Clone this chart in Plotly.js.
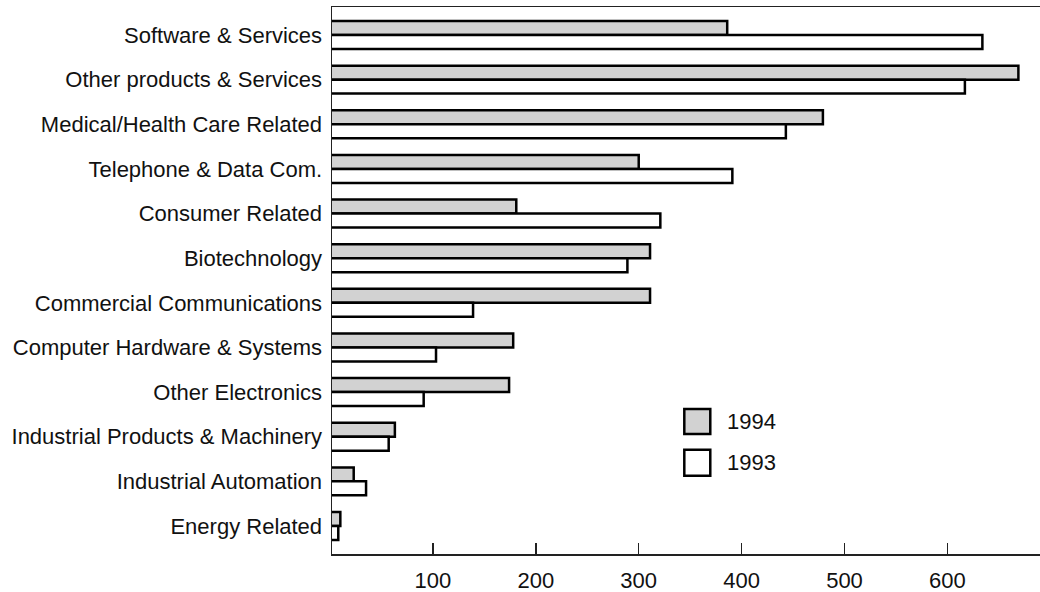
<!DOCTYPE html>
<html>
<head>
<meta charset="utf-8">
<script src="https://cdn.plot.ly/plotly-3.0.1.min.js"></script>
<style>
  html, body { margin: 0; padding: 0; background: #fff; }
  #chart { width: 1040px; height: 592px; }
</style>
</head>
<body>
<div id="chart"></div>
<script>
// Sectors, listed top to bottom
const categories = [
  "Software & Services",
  "Other products & Services",
  "Medical/Health Care Related",
  "Telephone & Data Com.",
  "Consumer Related",
  "Biotechnology",
  "Commercial Communications",
  "Computer Hardware & Systems",
  "Other Electronics",
  "Industrial Products & Machinery",
  "Industrial Automation",
  "Energy Related"
];

const seriesNames = ["1994", "1993"];

const values1994 = [386, 669, 479, 300, 181, 311, 311, 178, 174, 63, 23, 10];
const values1993 = [634, 617, 443, 391, 321, 289, 139, 103, 91, 57, 35, 8];

const tickValues = [100, 200, 300, 400, 500, 600];

const FONT = '"Liberation Sans", Arial, Helvetica, sans-serif';
const FONT_SIZE = 22;
const fills = ["#d2d2d2", "#ffffff"];

const traces = [values1994, values1993].map((vals, i) => ({
  type: "bar",
  orientation: "h",
  name: seriesNames[i],
  y: categories,
  x: vals,
  marker: { color: fills[i], line: { color: "#000", width: 2.5 } },
  hoverinfo: "x+y+name"
}));

// Legend swatches and labels, placed in paper coordinates
const swatches = [
  { y0: 0.2194, y1: 0.2651, fill: fills[0], ty: 0.2419 },
  { y0: 0.1431, y1: 0.1907, fill: fills[1], ty: 0.1669 }
];
const shapes = swatches.map(s => ({
  type: "rect", xref: "paper", yref: "paper",
  x0: 0.4976, x1: 0.5343, y0: s.y0, y1: s.y1,
  fillcolor: s.fill, line: { color: "#000", width: 2.5 }
}));
const annotations = swatches.map((s, i) => ({
  xref: "paper", yref: "paper", x: 0.5551, y: s.ty,
  xanchor: "left", yanchor: "middle", showarrow: false,
  text: seriesNames[i], font: { family: FONT, size: FONT_SIZE, color: "#111" }
}));

const layout = {
  width: 1040, height: 592,
  margin: { l: 332, r: 0, t: 7, b: 38, pad: 0 },
  paper_bgcolor: "#fff", plot_bgcolor: "#fff",
  barmode: "group",
  bargap: 0.373,
  bargroupgap: 0,
  showlegend: false,
  font: { family: FONT, size: FONT_SIZE, color: "#111" },
  xaxis: {
    range: [1.9, 690],
    tickvals: tickValues,
    ticks: "inside", ticklen: 11, tickwidth: 1.5, tickcolor: "#222",
    showline: true, linecolor: "#222", linewidth: 1.5, mirror: true,
    showgrid: false, zeroline: false,
    ticklabelstandoff: 6,
    tickfont: { family: FONT, size: FONT_SIZE, color: "#111" }
  },
  yaxis: {
    type: "category",
    categoryorder: "array", categoryarray: categories,
    range: [11.627, -0.627],
    ticks: "",
    showline: true, linecolor: "#222", linewidth: 1.5,
    showgrid: false, zeroline: false,
    ticklabelstandoff: 4,
    tickfont: { family: FONT, size: FONT_SIZE, color: "#111" }
  },
  shapes: shapes,
  annotations: annotations
};

Plotly.newPlot("chart", traces, layout, { displayModeBar: false, staticPlot: true });
</script>
</body>
</html>
